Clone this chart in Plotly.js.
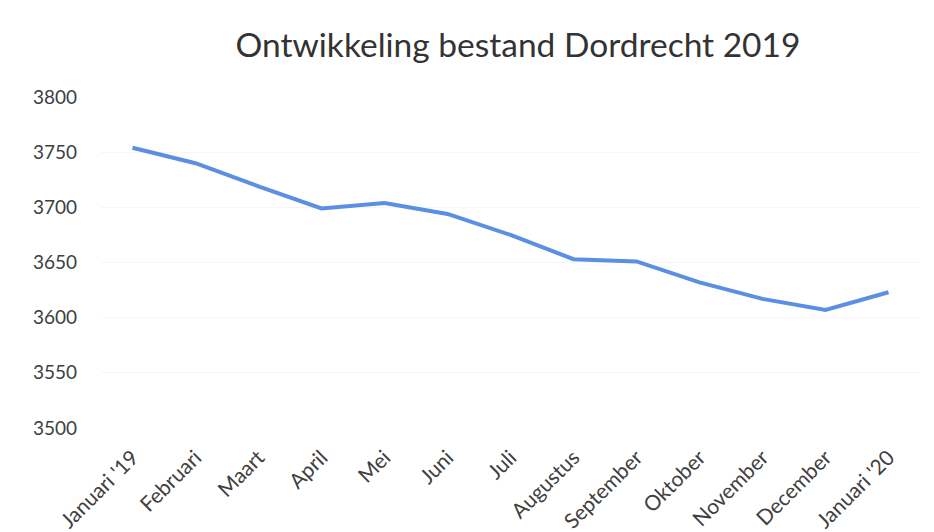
<!DOCTYPE html>
<html>
<head>
<meta charset="utf-8">
<script src="https://cdn.plot.ly/plotly-3.0.1.min.js"></script>
<style>html,body{margin:0;padding:0;background:#fff;}#chart{width:934px;height:532px;}</style>
</head>
<body>
<div id="chart"></div>
<script>
var months = ["Januari '19","Februari","Maart","April","Mei","Juni","Juli","Augustus","September","Oktober","November","December","Januari '20"];
var bestand = [3754,3740,3719,3699,3704,3694,3675,3653,3651,3632,3617,3607,3623];
var yTicks = [3500,3550,3600,3650,3700,3750,3800];

var trace = {
  x: months,
  y: bestand,
  type: 'scatter',
  mode: 'lines',
  line: {color: '#5b8fe3', width: 4},
  hoverinfo: 'x+y'
};

var layout = {
  width: 934,
  height: 532,
  margin: {l: 101, r: 14, t: 97, b: 104},
  paper_bgcolor: '#ffffff',
  plot_bgcolor: '#ffffff',
  showlegend: false,
  font: {family: 'Lato, sans-serif', color: '#404040'},
  title: {
    text: 'Ontwikkeling bestand Dordrecht 2019',
    font: {size: 33.5, color: '#333333', family: 'Lato, sans-serif'},
    xref: 'container', yref: 'container',
    x: 0.5546, xanchor: 'center',
    y: 1 - 45/532, yanchor: 'middle'
  },
  xaxis: {
    type: 'category',
    range: [-0.5, 12.5],
    tickangle: -45,
    tickfont: {size: 21, color: '#404040'},
    showgrid: false,
    zeroline: false,
    showline: false,
    ticks: 'outside',
    ticklen: 8,
    tickcolor: 'rgba(0,0,0,0)'
  },
  yaxis: {
    range: [3500, 3800],
    tickvals: yTicks,
    ticktext: yTicks.map(String),
    tickfont: {size: 19, color: '#404040'},
    showgrid: true,
    gridcolor: '#f6f6f6',
    gridwidth: 1,
    zeroline: false,
    showline: false,
    ticks: '',
    ticklabelstandoff: 23
  }
};

Plotly.newPlot('chart', [trace], layout, {displayModeBar: false, staticPlot: true});
</script>
</body>
</html>
